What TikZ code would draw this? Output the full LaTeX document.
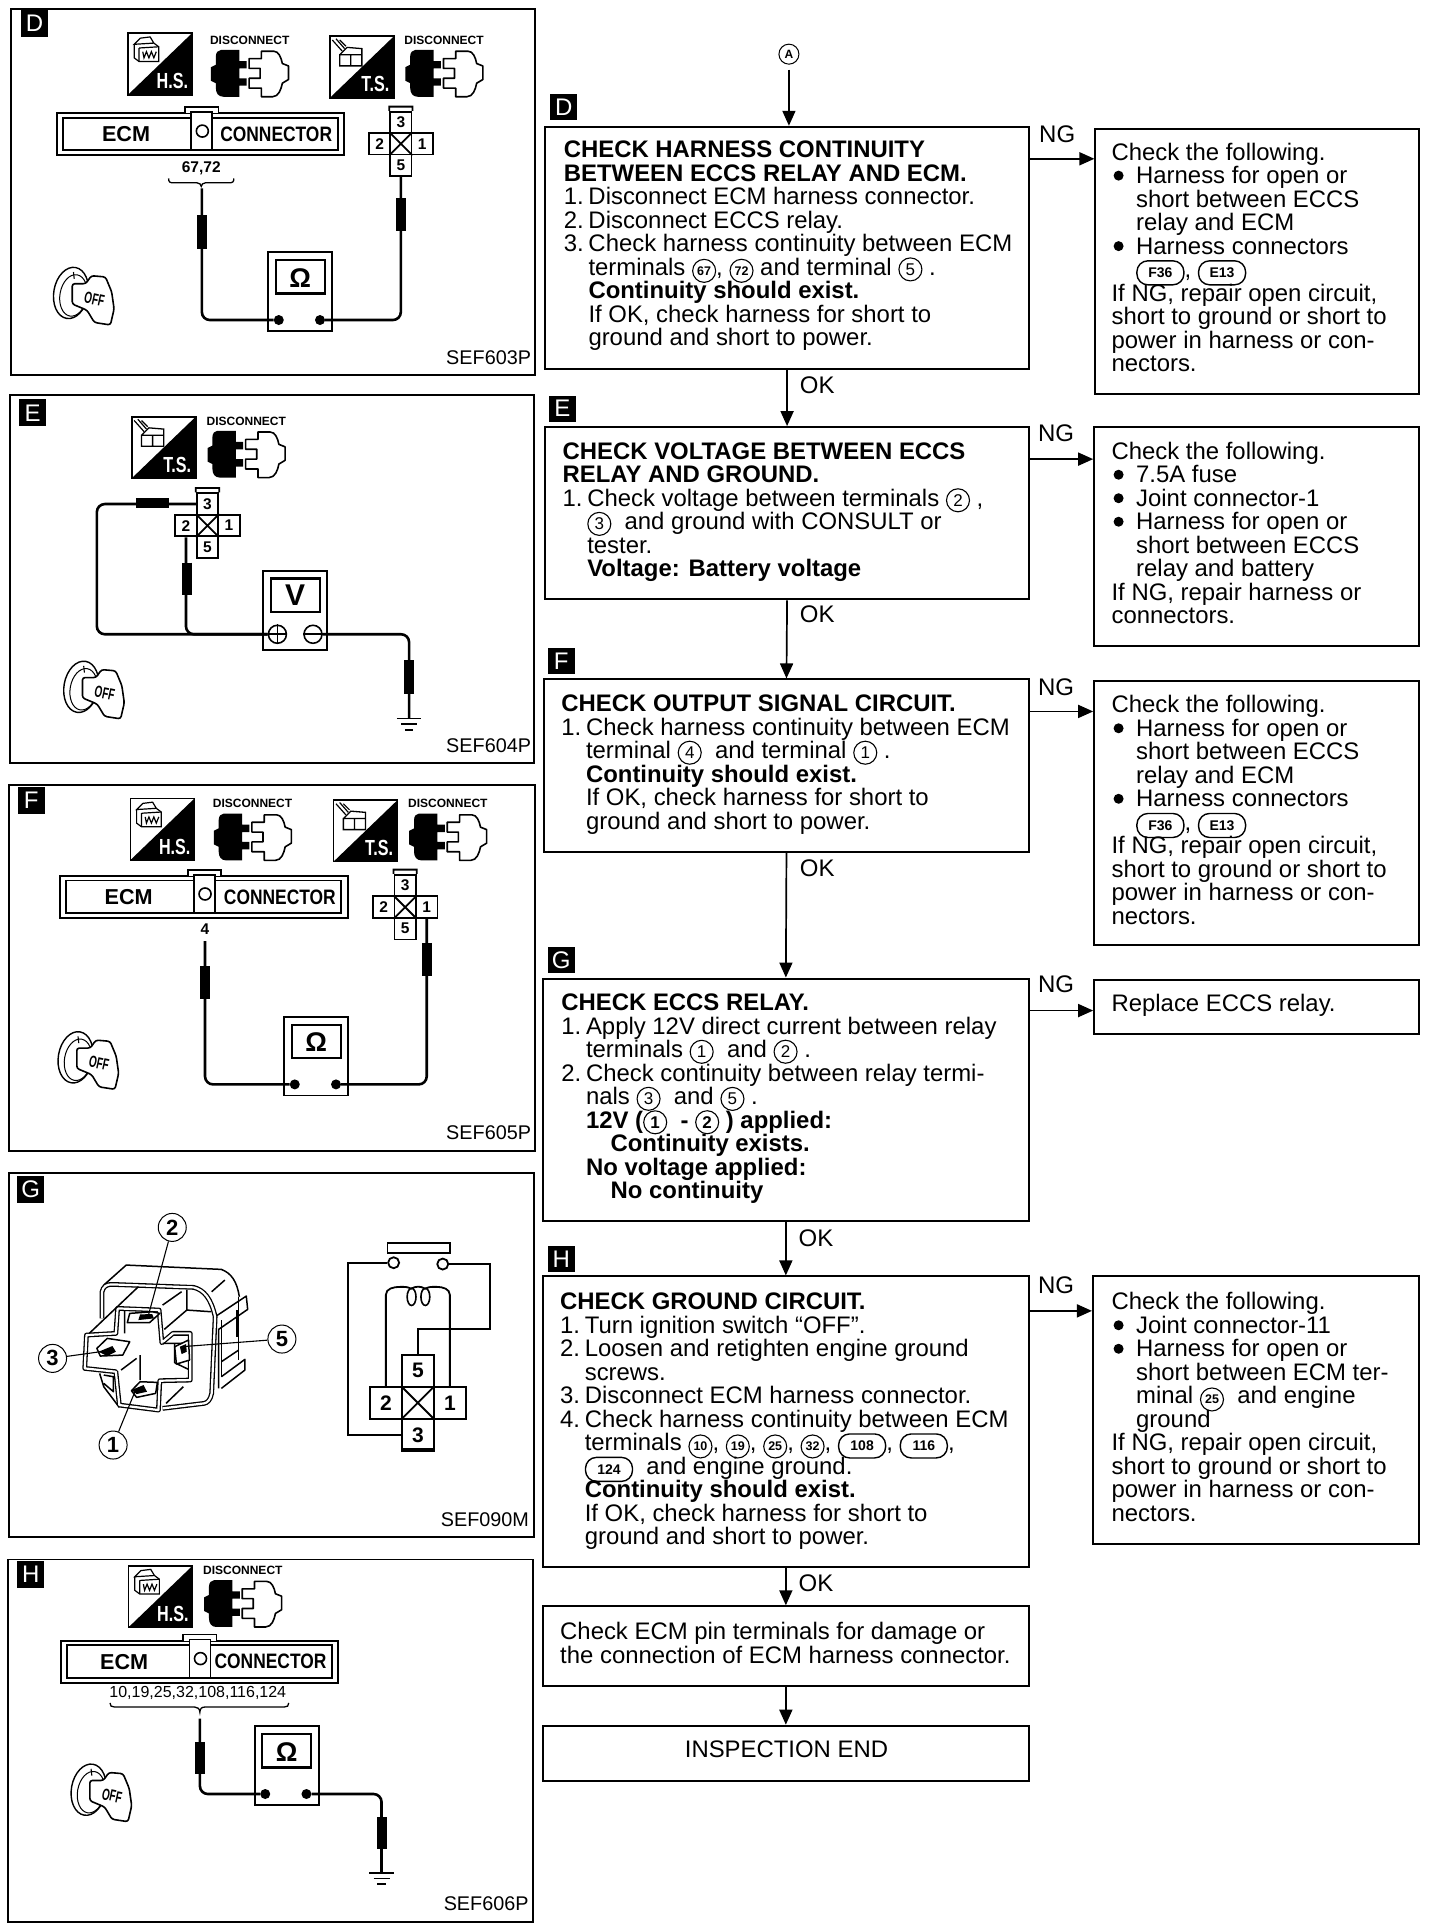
\documentclass[tikz,border=0pt]{standalone}
\usepackage{fontspec}
\setmainfont{Liberation Sans}
\usetikzlibrary{arrows.meta,fit}
\lineskiplimit=-100pt
\tikzset{
  panel/.style={draw,line width=1.9pt,inner sep=0pt},
  fbox/.style={draw,line width=2pt,inner sep=0pt},
  tagbox/.style={fill=black,text=white,inner sep=0pt,minimum width=27pt,minimum height=27pt,font=\fontsize{24}{24}\selectfont},
  ftag/.style={tagbox,minimum height=26pt},
  txt/.style={anchor=north west,inner sep=0pt,align=left,font=\fontsize{23.9}{23.5}\selectfont},
  lab/.style={inner sep=0pt,font=\fontsize{24}{24}\selectfont},
  sef/.style={inner sep=0pt,font=\fontsize{19.8}{20}\selectfont},
  arr/.style={line width=1.7pt,-{Triangle[length=15pt,width=13pt]}},
  wire/.style={line width=2.6pt,rounded corners=8pt},
  probe/.style={line width=10pt},
  ink/.style={line width=1.5pt},
  relayd/.style={double,line width=1.3pt,double distance=2.2pt,line join=round},
  relays/.style={line width=1.5pt,line join=round},
  circnum/.style={draw,circle,inner sep=0pt,line width=1pt,minimum size=28pt,font=\fontsize{22}{22}\selectfont\bfseries},
  discl/.style={inner sep=0pt,font=\fontsize{12}{12}\selectfont\bfseries},
  xbox/.style={draw,line width=1.8pt,inner sep=0pt,font=\fontsize{15.5}{15.5}\selectfont\bfseries},
  mdot/.style={fill,circle,inner sep=0pt,minimum size=10pt},
  msign/.style={draw,circle,inner sep=0pt,line width=1.6pt,minimum size=18pt},
}
\newcommand\cnn[1]{\tikz[baseline=(cn.base)]\node[draw,circle,inner sep=0pt,minimum size=23pt,line width=1.1pt,font=\fontsize{12.5}{12.5}\selectfont\bfseries](cn){#1};}
\newcommand\cnd[1]{\tikz[baseline=(cn.base)]\node[draw,circle,inner sep=0pt,minimum size=23pt,line width=1.1pt,font=\fontsize{17}{17}\selectfont](cn){#1};}
\newcommand\ov[1]{\tikz[baseline=(cn.base)]\node[draw,rounded corners=11pt,inner sep=2pt,minimum height=24pt,minimum width=47pt,line width=1.4pt,font=\fontsize{14}{14}\selectfont\bfseries](cn){#1};}
\newcommand\myind{\hspace*{24.6pt}}
\newcommand\mynum[1]{\makebox[24.6pt][l]{#1}}
\newcommand\mybul{\makebox[24.6pt][l]{\hspace*{2pt}\tikz[baseline=-8pt]\fill (0,0) circle (5pt);}}
\newcommand\fbx[5]{\node[fit={(#2,#3)(#4,#5)},fbox] (#1) {};}
\newcommand\flowtxt[4]{\node[txt] (#1) at (#2,#3-7.7) {\rule{0pt}{18pt}#4};}
% H.S. icon
\newcommand\hsicon[3]{\begin{scope}[shift={(#2,#3)}]
  \draw[ink,line width=1.7pt] (0,0) rectangle (52,50);
  \fill (52,0) -- (52,50) -- (0,50) -- cycle;
  \node[inner sep=0pt,text=white,font=\fontsize{19}{19}\selectfont\bfseries] (#1) at (36,39) {\scalebox{.85}[1.15]{H.S.}};
  \draw[line width=1.2pt] (5,9) -- (5,20) -- (9,23) -- (25,23) -- (25,11) -- (21,8) -- (5,9) -- (10,4) -- (18,3) -- (21,8);
  \draw[line width=1.2pt] (9,12) -- (25,11) (9,12) -- (9,23) (12,15) -- (13,20) -- (15,15) -- (17,20) -- (19,15) -- (21,20) -- (23,15);
\end{scope}}
% T.S. icon
\newcommand\tsicon[3]{\begin{scope}[shift={(#2,#3)}]
  \draw[ink,line width=1.7pt] (0,0) rectangle (52,50);
  \fill (52,0) -- (52,50) -- (0,50) -- cycle;
  \node[inner sep=0pt,text=white,font=\fontsize{19}{19}\selectfont\bfseries] (#1) at (37,39) {\scalebox{.85}[1.15]{T.S.}};
  \draw[line width=1.3pt] (8,15) -- (8,24) -- (26,24) -- (26,15) -- cycle (17,15) -- (17,24) (8,15) -- (14,9) -- (26,10) -- (26,15);
  \draw[line width=1.2pt] (2,3) -- (10,12) (5,2) -- (12,10) (8,3) -- (13,8);
\end{scope}}
% connector pair with DISCONNECT label
\newcommand\discon[3]{\begin{scope}[shift={(#2,#3)}]
  \node[discl] (#1) at (31.5,-8) {DISCONNECT};
  \fill (8,0) -- (23,0) -- (23,9) -- (29,9) -- (29,15) -- (23,15) -- (23,23) -- (29,23) -- (29,29) -- (23,29) -- (23,38)
    -- (10,38) .. controls (6,38) and (4,35) .. (4,31) -- (4,27) -- (0,25) -- (0,14) -- (4,12) -- (4,5) .. controls (4,2) and (6,0) .. cycle;
  \draw[line width=1.6pt,line join=round,fill=white] (31,7) -- (41,7) -- (41,1) -- (51,1) .. controls (55,1) and (57,6) .. (58,11) -- (63,13) -- (63,24)
    -- (58,27) .. controls (57,32) and (55,38) .. (50,38) -- (41,38) -- (41,31) -- (31,31) -- (31,23) -- (40,23) -- (40,15) -- (31,15) -- cycle;
\end{scope}}
% ECM connector: name, x, y, width, divider offset
\newcommand\ecmconn[5]{\begin{scope}[shift={(#2,#3)}]
  \draw[line width=1.9pt] (0,0) rectangle (#4,34);
  \draw[line width=1.6pt,fill=white] (104+#5,0) -- (104+#5,-5) -- (131+#5,-5) -- (131+#5,0);
  \draw[line width=1.9pt] (5,3.5) rectangle (#4-5,30);
  \draw[line width=1.6pt,fill=white] (109+#5,-1) rectangle (126+#5,30);
  \node[draw,circle,inner sep=0pt,line width=1.6pt,minimum size=12pt] (#1c) at (118+#5,14.5) {};
  \node[inner sep=0pt,font=\fontsize{21.6}{21.6}\selectfont\bfseries] (#1e) at (56+#5,17) {ECM};
  \node[inner sep=0pt,font=\fontsize{17.4}{17.4}\selectfont\bfseries] (#1n) at (#4-55,17) {\scalebox{1}[1.2]{CONNECTOR}};
\end{scope}}
% relay plug: name, cx, cy, size, top, bottom
\newcommand\relayx[6]{
  \node[xbox,minimum width=#4*1.2308pt,minimum height=#4*1.2308pt] (#1-c) at (#2,#3) {};
  \draw[line width=1.8pt] (#1-c.north west) -- (#1-c.south east) (#1-c.north east) -- (#1-c.south west);
  \node[xbox,minimum width=#4*1.2308pt,minimum height=#4*1.2308pt] (#1-t) at (#2,#3-#4) {#5};
  \node[xbox,minimum width=#4*1.2308pt,minimum height=#4*1.2308pt] (#1-b) at (#2,#3+#4) {#6};
  \node[xbox,minimum width=#4*1.2308pt,minimum height=#4*1.2308pt] (#1-l) at (#2-#4,#3) {2};
  \node[xbox,minimum width=#4*1.2308pt,minimum height=#4*1.2308pt] (#1-r) at (#2+#4,#3) {1};
}
% ohmmeter: name, x, y
\newcommand\ohm[3]{\begin{scope}[shift={(#2,#3)}]
  \draw[line width=1.9pt] (0,0) rectangle (52,64);
  \draw[line width=2.2pt] (6,6.5) rectangle (46,33.5);
  \node[inner sep=0pt,font=\fontsize{27}{27}\selectfont\bfseries] (#1s) at (26,21) {Ω};
  \node[mdot] (#1-l) at (8.5,55) {};
  \node[mdot] (#1-r) at (42,55) {};
\end{scope}}
\newcommand\gnd[3]{
  \coordinate (#1) at (#2,#3);
  \draw[line width=1.7pt] (#2-10,#3) -- (#2+10,#3) (#2-6.5,#3+4.5) -- (#2+6.5,#3+4.5) (#2-3.5,#3+9) -- (#2+3.5,#3+9);
}
\newcommand\ignkey[3]{\begin{scope}[shift={(#2,#3)}]
  \draw[line width=1.4pt,fill=white,rotate around={-10:(15,21)}] (15,21) ellipse (14 and 21);
  \draw[line width=1pt,rotate around={-10:(17,23)}] (17,23) ellipse (11 and 17);
  \draw[line width=1.1pt] (17,4) -- (17.6,9.5);
  \draw[line width=1.6pt,fill=white,rounded corners=2.5pt] (16,13.5) -- (27,13.5) -- (31.5,7) -- (43,8) -- (48,20) -- (50,34) -- (47,47) -- (34,45) -- (28,35) -- (16,30) -- cycle;
  \node[inner sep=0pt,rotate=-12,font=\fontsize{12.5}{12.5}\selectfont\bfseries] (#1) at (34,26) {\scalebox{.8}[1.3]{OFF}};
\end{scope}}
\begin{document}
\begin{tikzpicture}[x=1.230769pt,y=-1.23087pt]
\useasboundingbox (0,0) rectangle (1170,1568);
\fill[white] (0,0) rectangle (1170,1568);

% ---------- left panels
\node[fit={(9,7.6)(435,305)},panel] (pD) {};
\node[fit={(8.4,321)(434,620)},panel] (pE) {};
\node[fit={(7,638)(435,935)},panel] (pF) {};
\node[fit={(7,952.8)(434,1248.7)},panel] (pG) {};
\node[fit={(6.2,1267)(432.7,1561.6)},panel] (pH) {};
\node[tagbox] (lD) at (28,19) {D};
\node[tagbox] (lE) at (26.5,335.5) {E};
\node[tagbox] (lF) at (25.3,650) {F};
\node[tagbox] (lG) at (25,966) {G};
\node[tagbox] (lH) at (25,1279) {H};
\node[sef] (sD) at (397,290.5) {SEF603P};
\node[sef] (sE) at (397,606) {SEF604P};
\node[sef] (sF) at (397,920.5) {SEF605P};
\node[sef] (sG) at (394,1234.6) {SEF090M};
\node[sef] (sH) at (395,1546.7) {SEF606P};

% ---------- panel D
\hsicon{iD1}{104}{27}
\tsicon{iD2}{268}{29.5}
\discon{dD1}{171.4}{40.6}
\discon{dD2}{329.3}{40.6}
\ecmconn{eD}{46.4}{92}{233}{0}
\node[inner sep=0pt,font=\fontsize{15.5}{15.5}\selectfont\bfseries] (nD) at (163.5,137) {67,72};
\draw[line width=1.3pt] (137,145) .. controls (137,148) and (138,148.5) .. (141,148.5) -- (160,148.5) .. controls (162,148.5) and (163.5,150) .. (163.5,151.5) .. controls (163.5,150) and (165,148.5) .. (167,148.5) -- (186,148.5) .. controls (189,148.5) and (190,148) .. (190,145);
\relayx{xD}{325.7}{116.8}{17.3}{3}{5}
\draw[line width=1.8pt] (xD-t.north west) -- ++(0,-3.5) -- ([yshift=3.5*1.23pt]xD-t.north east) -- (xD-t.north east);
\ohm{oD}{218}{205}
\coordinate (wD) at (164,153);
\draw[wire] (wD) |- (oD-l);
\draw[wire] (xD-b.south) |- (oD-r);
\draw[probe] (164,175) -- (164,202);
\draw[probe] (325.7,161) -- (325.7,188);
\ignkey{kD}{42.7}{217}

% ---------- panel E
\tsicon{iE}{107}{338.6}
\discon{dE}{168.6}{350}
\relayx{xE}{168.6}{427}{17.5}{3}{5}
\draw[line width=1.8pt] (xE-t.north west) -- ++(0,-3.5) -- ([yshift=3.5*1.23pt]xE-t.north east) -- (xE-t.north east);
\draw[line width=1.9pt] (213.6,464) rectangle (265.5,528);
\draw[line width=2.2pt] (220,470) rectangle (260,497);
\node[inner sep=0pt,font=\fontsize{30}{30}\selectfont\bfseries] (vE) at (239.7,483.6) {V};
\node[msign] (vEp) at (225.4,515.3) {};
\node[msign] (vEm) at (254.3,515.3) {};
\draw[line width=1.6pt] (vEp.west) -- (vEp.east) (vEp.north) -- (vEp.south) (vEm.west) -- (vEm.east);
\coordinate (eC) at (78.7,460);
\draw[wire] (xE-t.west) -| (eC) |- (vEp.west);
\draw[wire] (xE-l.south) |- (vEp.west);
\draw[probe] (110.4,409) -- (137.7,409);
\draw[probe] (151.7,457) -- (151.7,483);
\gnd{gE}{332.4}{583.8}
\draw[wire] (vEm.east) -| (gE);
\draw[probe] (332.4,536.4) -- (332.4,563.5);
\ignkey{kE}{51}{537}

% ---------- panel F
\hsicon{iF1}{106}{648.7}
\tsicon{iF2}{271}{650}
\discon{dF1}{173.7}{661}
\discon{dF2}{332.4}{661}
\ecmconn{eF}{48.6}{711.8}{233.8}{0}
\node[inner sep=0pt,font=\fontsize{15.5}{15.5}\selectfont\bfseries] (nF) at (166.6,755) {4};
\relayx{xF}{329.2}{737}{17.5}{3}{5}
\draw[line width=1.8pt] (xF-t.north west) -- ++(0,-3.5) -- ([yshift=3.5*1.23pt]xF-t.north east) -- (xF-t.north east);
\ohm{oF}{231}{826}
\coordinate (wF) at (166.6,764.6);
\draw[wire] (wF) |- (oF-l);
\draw[wire] (xF-r.south) |- (oF-r);
\draw[probe] (166.6,785) -- (166.6,811.3);
\draw[probe] (346.7,766) -- (346.7,793);
\ignkey{kF}{46.4}{838}

% ---------- panel G: relay
\begin{scope}[shift={(0,950.6)},x=.3459pt,y=-.3333pt]
  % housing back
  \draw[relays] (300,345) -- (365,285) -- (640,298) .. controls (670,310) and (685,335) .. (692,380);
  \draw[relays] (690,380) -- (690,570);
  % side ribs
  \draw[relays] (622,440) -- (712,378) -- (716,418) -- (632,478) -- (632,655);
  \draw[relays] (640,620) -- (708,568) -- (708,600) -- (640,655);
  \draw[relays] (640,450) -- (640,620) (685,420) -- (685,500);
  % left lower wing
  \draw[relays] (288,610) -- (300,650) -- (345,712) (300,615) -- (328,620) -- (328,665) -- (300,640);
  % front frame
  \draw[relayd] (295,445) -- (295,365) .. controls (298,350) and (308,342) .. (325,343) -- (560,352) .. controls (590,360) and (610,385) .. (622,440) -- (612,670) .. controls (608,690) and (600,698) .. (590,700) -- (470,715);
  % cross recess
  \draw[relayd,fill=white] (340,415) -- (460,420) -- (468,518) -- (500,490) -- (550,490) -- (550,630) -- (462,632) -- (458,720) -- (345,705) -- (335,605) -- (245,595) -- (250,495) -- (335,490) -- cycle;
  % shading strokes
  \draw[relays] (258,490) -- (400,350) (470,405) -- (525,365) (475,478) -- (540,420) (480,700) -- (530,650) (350,600) -- (395,565) (612,365) -- (650,330) (640,575) -- (690,540);
  \draw[relays] (405,555) -- (405,630) (505,520) -- (505,578) -- (545,598);
  \draw[relays] (360,420) -- (360,490) (470,520) -- (540,520) (540,360) -- (540,420) -- (610,425);
  % terminals
  \draw[relays,fill=white] (368,458) -- (375,430) -- (440,425) -- (462,430) -- (432,458) -- cycle;
  \draw[relays,fill=white] (280,535) -- (310,505) -- (375,515) -- (355,555) -- (290,558) -- cycle;
  \draw[relays,fill=white] (380,662) -- (405,635) -- (455,637) -- (450,670) -- (395,682) -- cycle;
  \draw[relays,fill=white] (505,530) -- (545,510) -- (548,570) -- (510,582) -- cycle;
  \fill (405,433) -- (440,432) -- (445,445) -- (400,450) -- cycle;
  \fill (285,545) -- (325,528) -- (335,545) -- (310,558) -- cycle;
  \fill (380,660) -- (415,645) -- (425,665) -- (395,672) -- cycle;
  \fill (520,530) -- (538,522) -- (540,545) -- (525,552) -- cycle;
  % numbered circles and leaders
  \node[circnum] (c2) at (498,172) {2};
  \node[circnum] (c3) at (152,565) {3};
  \node[circnum] (c5) at (815,507) {5};
  \node[circnum] (c1) at (327,825) {1};
  \coordinate (t2) at (430,432);
  \coordinate (t3) at (290,545);
  \coordinate (t5) at (525,530);
  \coordinate (t1) at (390,665);
  \draw[line width=1.1pt] (c2) -- (t2) (c3) -- (t3) (c5) -- (t5) (c1) -- (t1);
  % contact bar and contacts
  \node[fit={(1120,218)(1300,248)},draw,line width=1.8pt,inner sep=0pt] (cbar) {};
  \node[draw,circle,inner sep=0pt,line width=1.8pt,minimum size=11pt] (cA) at (1138,278) {};
  \node[draw,circle,inner sep=0pt,line width=1.8pt,minimum size=11pt] (cB) at (1280,282) {};
\end{scope}
\tikzset{xbox/.append style={font=\fontsize{21}{21}\selectfont\bfseries}}
\relayx{xG}{339.5}{1139.7}{26}{5}{3}
\tikzset{xbox/.append style={font=\fontsize{15.5}{15.5}\selectfont\bfseries}}
\fill (xG-b.south west) rectangle ([yshift=4pt]xG-b.south east);
\coordinate (gA) at (283,1100);
\coordinate (gB) at (398,1080);
\draw[line width=1.8pt] (cA.west) -| (gA) |- (xG-b.west);
\draw[line width=1.8pt] (cB.east) -| (gB) -| (xG-t.north);
\draw[line width=1.8pt] (xG-l.north) -- (313.5,1052) to[out=90,in=180] (325,1045.5) to[out=0,in=150] (334,1047) to[out=30,in=150] (345.5,1047) to[out=30,in=180] (355,1045.5) to[out=0,in=90] (365.5,1052) -- (xG-r.north);
\draw[line width=1.6pt] (334.4,1053.6) ellipse (3.6 and 7) (345.6,1053.6) ellipse (3.6 and 7);

% ---------- panel H
\hsicon{iH}{104.5}{1272}
\discon{dH}{165.8}{1283.8}
\ecmconn{eH}{49.2}{1333}{225.6}{-4.3}
\node[inner sep=0pt,font=\fontsize{16}{16}\selectfont] (nH) at (160.7,1375.4) {10,19,25,32,108,116,124};
\draw[line width=1.3pt] (89.4,1383.5) .. controls (89.4,1386) and (90.5,1386.8) .. (93,1386.8) -- (158,1386.8) .. controls (160,1386.8) and (162.4,1388) .. (162.4,1391) .. controls (162.4,1388) and (164,1386.8) .. (167,1386.8) -- (231,1386.8) .. controls (233.5,1386.8) and (234.6,1386) .. (234.6,1383.5);
\ohm{oH}{207}{1402.5}
\coordinate (wH) at (162.4,1396.3);
\draw[wire] (wH) |- (oH-l);
\draw[probe] (162.4,1415.2) -- (162.4,1441);
\gnd{gH}{310}{1521.7}
\draw[wire] (oH-r) -| (gH);
\draw[probe] (310,1476.2) -- (310,1502.5);
\ignkey{kH}{57}{1433}

% ---------- flow boxes
\fbx{bD}{443}{103}{836}{300}
\fbx{bE}{443}{347}{836}{487}
\fbx{bF}{442}{552}{836}{692}
\fbx{bG}{441}{795}{836}{992}
\fbx{bH}{441}{1037}{836}{1273}
\fbx{bC}{441}{1305}{836}{1370}
\fbx{bZ}{441}{1402}{836}{1447}
\fbx{rD}{890}{105}{1153}{320}
\fbx{rE}{889}{347}{1153}{525}
\fbx{rF}{889}{553}{1153}{768}
\fbx{rG}{889}{796}{1153}{840}
\fbx{rH}{888}{1037}{1153}{1254}

\node[ftag] (fD) at (458,87) {D};
\node[ftag] (fE) at (457,332) {E};
\node[ftag] (fF) at (456,537) {F};
\node[ftag] (fG) at (456,780) {G};
\node[ftag] (fH) at (456,1023) {H};

\node[draw,circle,inner sep=0pt,line width=1pt,minimum size=20pt,font=\fontsize{12}{12}\selectfont\bfseries] (nA) at (641,44) {A};

\draw[arr,shorten <=5pt] (nA) -- (nA |- bD.north);
\draw[arr] (bD.south) -- (bE.north);
\draw[arr] (bE.south) -- (bF.north);
\draw[arr] (bF.south) -- (bG.north);
\draw[arr] (bG.south) -- (bH.north);
\draw[arr] (bH.south) -- (bC.north);
\draw[arr] (bC.south) -- (bZ.north);
\draw[arr] (bD.east |- 0,129) -- (rD.west |- 0,129);
\draw[arr] (bE.east |- 0,373) -- (rE.west |- 0,373);
\draw[arr] (bF.east |- 0,578) -- (rF.west |- 0,578);
\draw[arr] (bG.east |- 0,821) -- (rG.west |- 0,821);
\draw[arr] (bH.east |- 0,1065) -- (rH.west |- 0,1065);

\node[lab] (ng1) at (859,109) {NG};
\node[lab] (ng2) at (858,352) {NG};
\node[lab] (ng3) at (858,558) {NG};
\node[lab] (ng4) at (858,800) {NG};
\node[lab] (ng5) at (858,1044) {NG};
\node[lab] (ok1) at (664,313) {OK};
\node[lab] (ok2) at (664,499) {OK};
\node[lab] (ok3) at (664,705) {OK};
\node[lab] (ok4) at (663,1006) {OK};
\node[lab] (ok5) at (663,1286) {OK};

% ---------- flow texts
\flowtxt{tD}{458}{121}{{\bfseries CHECK HARNESS CONTINUITY}\\
{\bfseries BETWEEN ECCS RELAY AND ECM.}\\
\mynum{1.}Disconnect ECM harness connector.\\
\mynum{2.}Disconnect ECCS relay.\\
\mynum{3.}Check harness continuity between ECM\\
\myind terminals \cnn{67}, \cnn{72} and terminal \cnd{5} .\\
\myind{\bfseries Continuity should exist.}\\
\myind If OK, check harness for short to\\
\myind ground and short to power.}

\flowtxt{tE}{457}{366}{{\bfseries CHECK VOLTAGE BETWEEN ECCS}\\
{\bfseries RELAY AND GROUND.}\\
\mynum{1.}Check voltage between terminals \cnd{2} ,\\
\myind\cnd{3} \ and ground with CONSULT or\\
\myind tester.\\
\myind{\bfseries Voltage: Battery voltage}}

\flowtxt{tF}{456}{571}{{\bfseries CHECK OUTPUT SIGNAL CIRCUIT.}\\
\mynum{1.}Check harness continuity between ECM\\
\myind terminal \cnd{4} \ and terminal \cnd{1} .\\
\myind{\bfseries Continuity should exist.}\\
\myind If OK, check harness for short to\\
\myind ground and short to power.}

\flowtxt{tG}{456}{814}{{\bfseries CHECK ECCS RELAY.}\\
\mynum{1.}Apply 12V direct current between relay\\
\myind terminals \cnd{1} \ and \cnd{2} .\\
\mynum{2.}Check continuity between relay termi-\\
\myind nals \cnd{3} \ and \cnd{5} .\\
\myind{\bfseries 12V (\cnd{1} \ - \cnd{2} ) applied:}\\
\myind\myind{\bfseries Continuity exists.}\\
\myind{\bfseries No voltage applied:}\\
\myind\myind{\bfseries No continuity}}

\flowtxt{tH}{455}{1057}{{\bfseries CHECK GROUND CIRCUIT.}\\
\mynum{1.}Turn ignition switch “OFF”.\\
\mynum{2.}Loosen and retighten engine ground\\
\myind screws.\\
\mynum{3.}Disconnect ECM harness connector.\\
\mynum{4.}Check harness continuity between ECM\\
\myind terminals \cnn{10}, \cnn{19}, \cnn{25}, \cnn{32}, \ov{108}, \ov{116},\\
\myind\ov{124} \ and engine ground.\\
\myind{\bfseries Continuity should exist.}\\
\myind If OK, check harness for short to\\
\myind ground and short to power.}

\flowtxt{tC}{455}{1325}{Check ECM pin terminals for damage or\\
the connection of ECM harness connector.}

\node[inner sep=0pt,font=\fontsize{23.9}{23.5}\selectfont] (tZ) at (639,1421) {INSPECTION END};

\flowtxt{uD}{903}{123}{Check the following.\\
\mybul Harness for open or\\
\myind short between ECCS\\
\myind relay and ECM\\
\mybul Harness connectors\\
\myind\ov{F36}, \ov{E13}\\
If NG, repair open circuit,\\
short to ground or short to\\
power in harness or con-\\
nectors.}

\flowtxt{uE}{903}{366}{Check the following.\\
\mybul 7.5A fuse\\
\mybul Joint connector-1\\
\mybul Harness for open or\\
\myind short between ECCS\\
\myind relay and battery\\
If NG, repair harness or\\
connectors.}

\flowtxt{uF}{903}{572}{Check the following.\\
\mybul Harness for open or\\
\myind short between ECCS\\
\myind relay and ECM\\
\mybul Harness connectors\\
\myind\ov{F36}, \ov{E13}\\
If NG, repair open circuit,\\
short to ground or short to\\
power in harness or con-\\
nectors.}

\flowtxt{uG}{903}{815}{Replace ECCS relay.}

\flowtxt{uH}{903}{1057}{Check the following.\\
\mybul Joint connector-11\\
\mybul Harness for open or\\
\myind short between ECM ter-\\
\myind minal \cnn{25} \ and engine\\
\myind ground\\
If NG, repair open circuit,\\
short to ground or short to\\
power in harness or con-\\
nectors.}
\end{tikzpicture}
\end{document}
